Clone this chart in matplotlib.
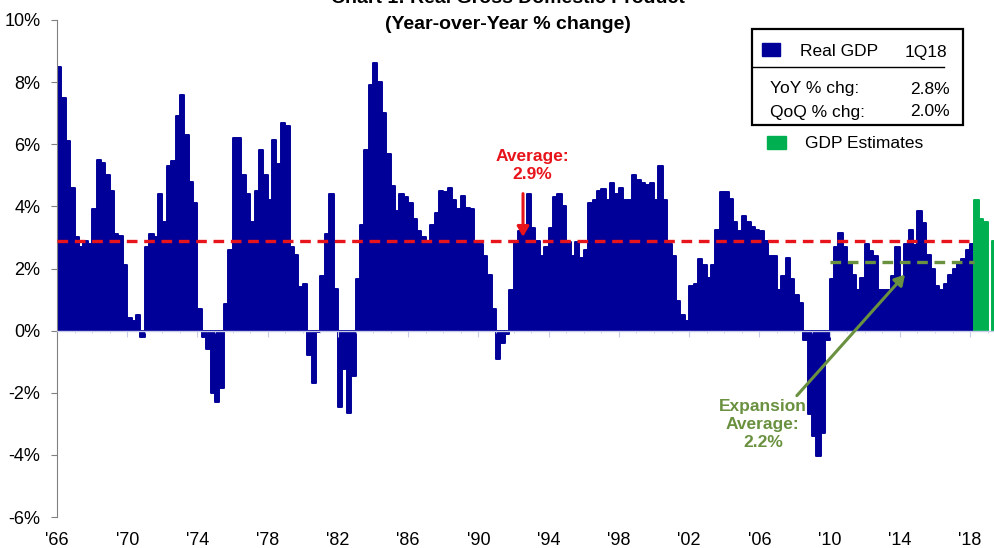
import numpy as np
import matplotlib.pyplot as plt

plt.rcParams['font.family'] = ['Liberation Sans', 'DejaVu Sans']

# ---- data: real GDP, YoY % change, quarterly from 1966Q1 to 2018Q1 ----
start_year = 1966
gdp_yoy = [
    8.5, 7.5, 6.1, 4.6,      # 1966
    3.0, 2.7, 2.9, 2.8,      # 1967
    3.9, 5.5, 5.4, 5.0,      # 1968
    4.5, 3.1, 3.05, 2.1,     # 1969
    0.4, 0.3, 0.5, -0.2,     # 1970
    2.7, 3.1, 3.0, 4.4,      # 1971
    3.5, 5.3, 5.45, 6.9,     # 1972
    7.6, 6.3, 4.8, 4.1,      # 1973
    0.7, -0.2, -0.6, -2.0,   # 1974
    -2.3, -1.85, 0.85, 2.6,  # 1975
    6.2, 6.2, 5.0, 4.4,      # 1976
    3.5, 4.5, 5.8, 5.0,      # 1977
    4.2, 6.15, 5.35, 6.7,    # 1978
    6.6, 2.7, 2.45, 1.4,     # 1979
    1.5, -0.8, -1.7, -0.05,  # 1980
    1.75, 3.1, 4.4, 1.35,    # 1981
    -2.45, -1.25, -2.65, -1.45,  # 1982
    1.65, 3.4, 5.8, 7.9,     # 1983
    8.6, 8.0, 7.0, 5.7,      # 1984
    4.65, 3.85, 4.4, 4.3,    # 1985
    4.1, 3.6, 3.2, 3.0,      # 1986
    2.9, 3.4, 3.8, 4.5,      # 1987
    4.45, 4.6, 4.2, 3.9,     # 1988
    4.35, 3.95, 3.9, 2.9,    # 1989
    2.8, 2.4, 1.8, 0.7,      # 1990
    -0.9, -0.4, -0.1, 1.3,   # 1991
    2.9, 3.2, 3.3, 4.4,      # 1992
    3.3, 2.9, 2.4, 2.7,      # 1993
    3.3, 4.3, 4.4, 4.0,      # 1994
    2.85, 2.4, 2.85, 2.35,   # 1995
    2.6, 4.1, 4.2, 4.5,      # 1996
    4.55, 4.2, 4.75, 4.4,    # 1997
    4.6, 4.2, 4.2, 5.0,      # 1998
    4.85, 4.75, 4.7, 4.75,   # 1999
    4.2, 5.3, 4.2, 2.8,      # 2000
    2.4, 0.95, 0.5, 0.3,     # 2001
    1.45, 1.5, 2.3, 2.1,     # 2002
    1.7, 2.1, 3.25, 4.45,    # 2003
    4.45, 4.25, 3.5, 3.2,    # 2004
    3.7, 3.5, 3.35, 3.25,    # 2005
    3.2, 2.9, 2.4, 2.4,      # 2006
    1.3, 1.75, 2.35, 1.65,   # 2007
    1.15, 0.9, -0.3, -2.7,   # 2008
    -3.4, -4.05, -3.3, -0.3, # 2009
    1.65, 2.7, 3.15, 2.7,    # 2010
    2.2, 1.8, 1.3, 1.7,      # 2011
    2.8, 2.55, 2.4, 1.3,     # 2012
    1.3, 1.3, 1.75, 2.7,     # 2013
    1.6, 2.8, 3.25, 2.75,    # 2014
    3.85, 3.45, 2.45, 2.0,   # 2015
    1.45, 1.3, 1.5, 1.8,     # 2016
    2.0, 2.2, 2.3, 2.6,      # 2017
    2.8,                     # 2018Q1
]
# GDP estimates 2018Q2 .. 2019Q2
gdp_est = [4.2, 3.6, 3.5, np.nan, 2.9]

avg_all = 2.9
avg_expansion = 2.2
expansion_start = 2010.0

year_ticks = list(range(1966, 2019, 4))
year_labels = ["'66", "'70", "'74", "'78", "'82", "'86", "'90", "'94", "'98",
               "'02", "'06", "'10", "'14", "'18"]
y_ticks = [10, 8, 6, 4, 2, 0, -2, -4, -6]
y_labels = ['10%', '8%', '6%', '4%', '2%', '0%', '-2%', '-4%', '-6%']

navy = '#000099'
green = '#00B050'
red = '#E8141B'
olive = '#6A9140'

x_gdp = start_year + np.arange(len(gdp_yoy)) / 4.0
x_est = x_gdp[-1] + 0.25 * (1 + np.arange(len(gdp_est)))
x_end = x_gdp[-1] + 0.25

fig = plt.figure(figsize=(9.95, 5.48), dpi=100)
ax = fig.add_axes([57/995, 31/548, 1 - 57/995, 497/548])

bars = ax.bar(x_gdp, gdp_yoy, width=0.25, align='edge', color=navy,
              edgecolor=navy, linewidth=1.4, zorder=1)
est = ax.bar(x_est, gdp_est, width=0.25, align='edge', color=green,
             edgecolor=green, linewidth=1.4, zorder=1)
for p in list(bars) + list(est):
    p.set_joinstyle('round')

ax.plot([start_year, x_end], [avg_all, avg_all], color=red, lw=2.4,
        dashes=(3.2, 2.0), zorder=3)
ax.plot([expansion_start, x_end], [avg_expansion, avg_expansion], color=olive,
        lw=2.4, dashes=(3.2, 2.0), zorder=3)

ax.set_xlim(start_year, 2019.42)
ax.set_ylim(-6, 10)

# y axis
ax.set_yticks(y_ticks)
ax.set_yticklabels(y_labels)
ax.tick_params(axis='y', length=4, pad=8, labelsize=13, color='#808080')
ax.spines['left'].set_color('#808080')
ax.spines['top'].set_visible(False)
ax.spines['right'].set_visible(False)

# x axis line at zero, labels at the bottom
ax.spines['bottom'].set_position(('data', 0))
ax.spines['bottom'].set_color('#C8CCEA')
ax.spines['bottom'].set_linewidth(1.0)
ax.set_xticks(year_ticks)
ax.set_xticks(range(1966, 2020), minor=True)
ax.tick_params(axis='x', which='major', length=4, color='#C8CCEA',
               labelbottom=False)
ax.tick_params(axis='x', which='minor', length=1.5, color='#C8CCEA')

sec = ax.secondary_xaxis(0.0)
sec.set_xticks(year_ticks)
sec.set_xticklabels(year_labels)
sec.tick_params(length=0, pad=11, labelsize=13)
sec.spines['bottom'].set_visible(False)

# annotations
ax.text(1993.05, 5.31, 'Average:\n2.9%', color=red, fontsize=12.5,
        fontweight='bold', ha='center', va='center', linespacing=1.25)
ax.annotate('', xy=(1992.54, 2.93), xytext=(1992.54, 4.5),
            arrowprops=dict(arrowstyle='-|>,head_width=0.35,head_length=0.6',
                            color=red, lw=2.2), zorder=4)

ax.text(2006.2, -3.03, 'Expansion\nAverage:\n2.2%', color=olive, fontsize=12.5,
        fontweight='bold', ha='center', va='center', linespacing=1.25)
ax.annotate('', xy=(2014.4, 1.87), xytext=(2008.03, -2.16),
            arrowprops=dict(arrowstyle='-|>,head_width=0.35,head_length=0.6',
                            color=olive, lw=2.2), zorder=4)

# titles (first line is cut off at the top edge, as in the source)
fig.text(508/995, 1 - 3/548, 'Chart 1: Real Gross Domestic Product',
         ha='center', va='baseline', fontsize=14, fontweight='bold')
fig.text(508/995, 1 - 29/548, '(Year-over-Year % change)',
         ha='center', va='baseline', fontsize=14, fontweight='bold')

# legend box
def fx(px):
    return px / 995

def fy(py):
    return 1 - py / 548

box = plt.Rectangle((fx(752), fy(125)), fx(963) - fx(752), fy(29) - fy(125),
                    transform=fig.transFigure, fill=False, edgecolor='black',
                    linewidth=1.6)
fig.patches.append(box)
fig.patches.append(plt.Rectangle((fx(762), fy(56)), fx(18), 13/548,
                                 transform=fig.transFigure, color=navy))
fig.lines.append(plt.Line2D([fx(752), fx(944)], [fy(67), fy(67)],
                            transform=fig.transFigure, color='black', lw=1.0))
fig.text(fx(800), fy(52), 'Real GDP', fontsize=12.5, va='center')
fig.text(fx(947), fy(52), '1Q18', fontsize=12.5, va='center', ha='right')
fig.text(fx(770), fy(89), 'YoY % chg:', fontsize=12.5, va='center')
fig.text(fx(950), fy(89), '2.8%', fontsize=12.5, va='center', ha='right')
fig.text(fx(770), fy(112), 'QoQ % chg:', fontsize=12.5, va='center')
fig.text(fx(950), fy(112), '2.0%', fontsize=12.5, va='center', ha='right')
fig.patches.append(plt.Rectangle((fx(767), fy(149)), fx(19), 13/548,
                                 transform=fig.transFigure, color=green))
fig.text(fx(805), fy(143), 'GDP Estimates', fontsize=12.5, va='center')

plt.savefig('out.png', dpi=100)
